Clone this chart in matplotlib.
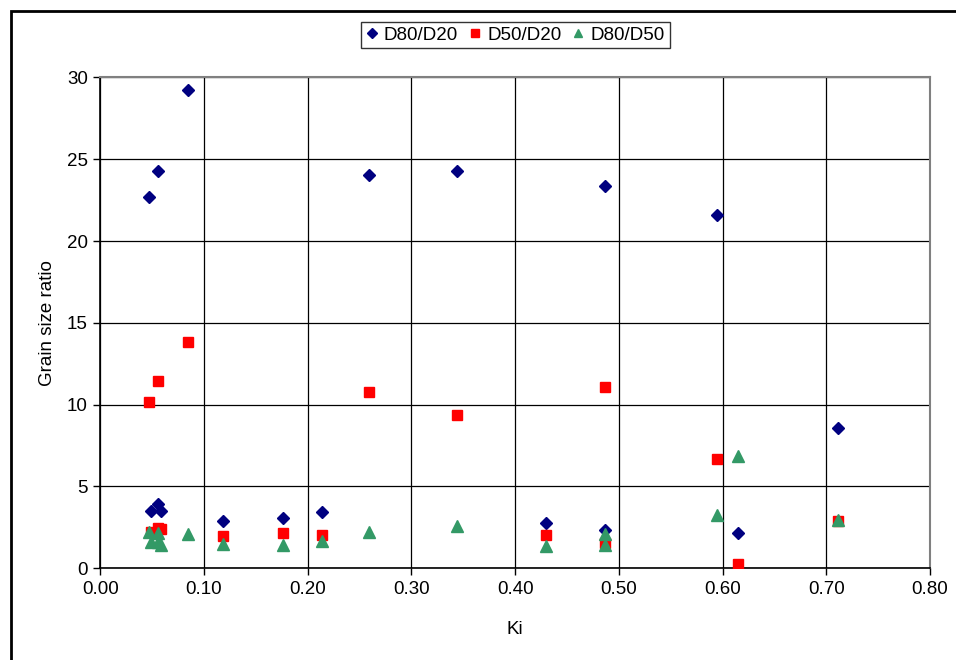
import matplotlib
matplotlib.use("Agg")
import matplotlib.pyplot as plt
from matplotlib.patches import Rectangle

plt.rcParams['font.family'] = ['Liberation Sans', 'DejaVu Sans']

# Data: one entry per sample
ki = [0.047, 0.0556, 0.0846, 0.2591, 0.344, 0.4867, 0.5947,
      0.0486, 0.0554, 0.0582, 0.1186, 0.1759, 0.2135, 0.4295, 0.4867, 0.615, 0.7114]
d80_d20 = [22.7, 24.3, 29.2, 24.05, 24.3, 23.35, 21.6,
           3.50, 3.91, 3.50, 2.89, 3.09, 3.42, 2.79, 2.34, 2.18, 8.58]
d50_d20 = [10.15, 11.45, 13.85, 10.75, 9.35, 11.05, 6.66,
           2.22, 2.44, 2.38, 1.97, 2.14, 2.04, 2.04, 1.56, 0.28, 2.89]
d80_d50 = [2.24, 2.16, 2.10, 2.22, 2.57, 2.12, 3.24,
           1.61, 1.60, 1.45, 1.47, 1.45, 1.67, 1.37, 1.45, 6.86, 2.94]

x_ticks = [0.0, 0.1, 0.2, 0.3, 0.4, 0.5, 0.6, 0.7, 0.8]
y_ticks = [0, 5, 10, 15, 20, 25, 30]

W, H = 956, 660
fig = plt.figure(figsize=(W / 100, H / 100), dpi=100)
ax = fig.add_axes([100.3 / W, (H - 568.3) / H, (930 - 100.3) / W, (568.3 - 77.4) / H])

ax.plot(ki, d80_d20, linestyle='none', marker='D', markersize=6.3,
        color='#000080', label='D80/D20', zorder=3)
ax.plot(ki, d50_d20, linestyle='none', marker='s', markersize=6.8,
        color='#FF0000', label='D50/D20', zorder=4)
ax.plot(ki, d80_d50, linestyle='none', marker='^', markersize=8.5,
        color='#339966', label='D80/D50', zorder=5)

ax.set_xlim(0, 0.8)
ax.set_ylim(0, 30)
ax.set_xticks(x_ticks)
ax.set_xticklabels([f"{v:.2f}" for v in x_ticks])
ax.set_yticks(y_ticks)
ax.set_yticklabels([str(v) for v in y_ticks])
ax.tick_params(direction='out', length=5, width=1, colors='black', labelsize=13.5, pad=4)

ax.grid(True, color='black', linewidth=0.9, zorder=1)
ax.set_axisbelow(True)
for s in ['left', 'bottom']:
    ax.spines[s].set_color('black')
    ax.spines[s].set_linewidth(1.2)
for s in ['top', 'right']:
    ax.spines[s].set_color('#808080')
    ax.spines[s].set_linewidth(1.5)

ax.set_xlabel('Ki', fontsize=13.5, labelpad=17)
ax.set_ylabel('Grain size ratio', fontsize=13.5, labelpad=8)

leg = ax.legend(loc='center', bbox_to_anchor=(515.5 / W, 1 - 35 / H),
                bbox_transform=fig.transFigure, ncol=3, fontsize=13.5,
                frameon=True, fancybox=False, edgecolor='black',
                handlelength=0.6, handletextpad=0.35, columnspacing=0.6,
                borderpad=0.25, borderaxespad=0)
leg.get_frame().set_linewidth(1.0)
for h in leg.legend_handles:
    h.set_markersize(5.5)

fig.patches.append(Rectangle((11 / W, -0.05), 1.2, (H - 11) / H + 0.05,
                             transform=fig.transFigure, fill=False,
                             edgecolor='black', linewidth=2, clip_on=False))

fig.savefig('out.png', dpi=100)
